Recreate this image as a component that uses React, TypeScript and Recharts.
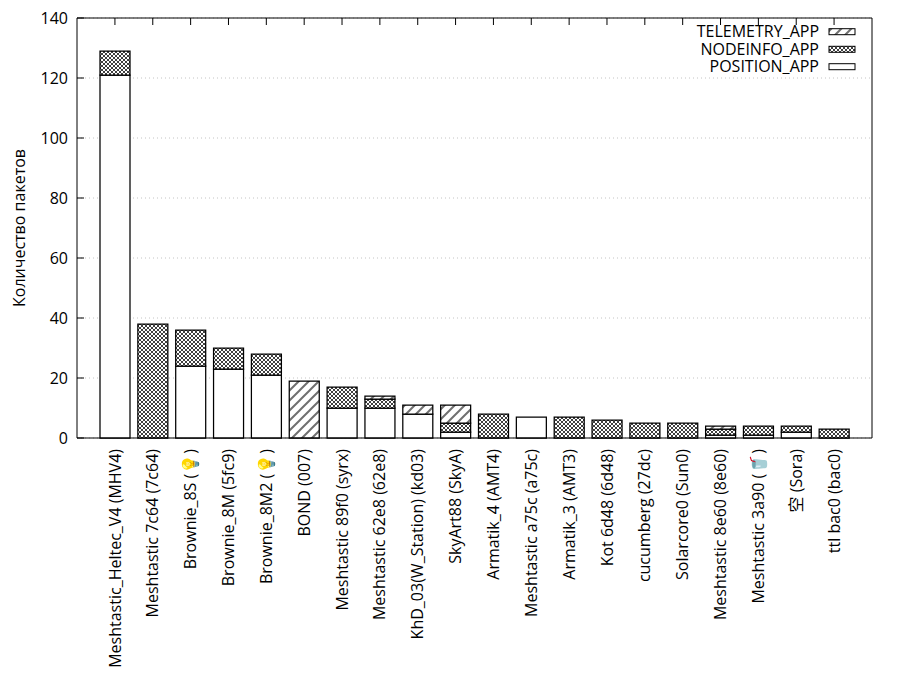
import React from 'react';
import { BarChart, Bar, XAxis, YAxis, CartesianGrid } from 'recharts';

const categories = [
  'Meshtastic_Heltec_V4 (MHV4)',
  'Meshtastic 7c64 (7c64)',
  'Brownie_8S (💡)',
  'Brownie_8M (5fc9)',
  'Brownie_8M2 (💡)',
  'BOND (007)',
  'Meshtastic 89f0 (syrx)',
  'Meshtastic 62e8 (62e8)',
  'KhD_03(W_Station) (kd03)',
  'SkyArt88 (SkyA)',
  'Armatik_4 (AMT4)',
  'Meshtastic a75c (a75c)',
  'Armatik_3 (AMT3)',
  'Kot 6d48 (6d48)',
  'cucumberg (27dc)',
  'Solarcore0 (Sun0)',
  'Meshtastic 8e60 (8e60)',
  'Meshtastic 3a90 (🥤)',
  '空 (Sora)',
  'ttl bac0 (bac0)',
];

const positionApp = [121, 0, 24, 23, 21, 0, 10, 10, 8, 2, 0, 7, 0, 0, 0, 0, 1, 1, 2, 0];
const nodeinfoApp = [8, 38, 12, 7, 7, 0, 7, 3, 0, 3, 8, 0, 7, 6, 5, 5, 2, 3, 2, 3];
const telemetryApp = [0, 0, 0, 0, 0, 19, 0, 1, 3, 6, 0, 0, 0, 0, 0, 0, 1, 0, 0, 0];

const seriesNames = ['POSITION_APP', 'NODEINFO_APP', 'TELEMETRY_APP'];
const seriesKeys = ['position', 'nodeinfo', 'telemetry'];
const yTicks = [0, 20, 40, 60, 80, 100, 120, 140];
const yTitle = 'Количество пакетов';

const FONT = '"Open Sans", "Noto Sans", "Noto Sans CJK SC", sans-serif';

const data = categories.map((name, i) => ({
  name,
  position: positionApp[i],
  nodeinfo: nodeinfoApp[i],
  telemetry: telemetryApp[i],
}));

function Patterns({ prefix }: { prefix: string }) {
  return (
    <defs>
      <pattern id={`${prefix}-cross`} width={4} height={4} patternUnits="userSpaceOnUse">
        <rect width={4} height={4} fill="#fff" />
        <path d="M0,0 L4,4 M4,0 L0,4" stroke="#000" strokeWidth={0.75} />
      </pattern>
      <pattern id={`${prefix}-hatch`} width={10} height={10} patternUnits="userSpaceOnUse">
        <rect width={10} height={10} fill="#fff" />
        <path d="M-1,11 L11,-1 M-1,1 L1,-1 M9,11 L11,9" stroke="#707070" strokeWidth={2} />
      </pattern>
    </defs>
  );
}

const fillFor = (prefix: string, key: string) =>
  key === 'position' ? '#fff' : key === 'nodeinfo' ? `url(#${prefix}-cross)` : `url(#${prefix}-hatch)`;

const XTick = (props: any) => {
  const { x, y, payload } = props;
  return (
    <g transform={`translate(${x},${y})`}>
      <text
        transform="rotate(-90)"
        textAnchor="end"
        dy="0.35em"
        fontSize={16}
        fontFamily={FONT}
        fill="#000"
      >
        {payload.value}
      </text>
    </g>
  );
};

const TopTick = (props: any) => {
  const { x, y } = props;
  return <line x1={x} x2={x} y1={y} y2={y + 7} stroke="#000" strokeWidth={1} />;
};

const LeftTick = (props: any) => {
  const { x, y, payload } = props;
  return (
    <g>
      <line x1={x + 9} x2={x + 16} y1={y} y2={y} stroke="#000" strokeWidth={1} />
      <text x={x} y={y} dy="0.35em" textAnchor="end" fontSize={16} fontFamily={FONT} fill="#000">
        {payload.value}
      </text>
    </g>
  );
};

const RightTick = (props: any) => {
  const { x, y } = props;
  return <line x1={x - 7} x2={x} y1={y} y2={y} stroke="#000" strokeWidth={1} />;
};

const YTitle = (props: any) => {
  const vb = props.viewBox || {};
  const cx = 19;
  const cy = (vb.y ?? 18) + (vb.height ?? 420) / 2;
  return (
    <text
      x={cx}
      y={cy}
      transform={`rotate(-90, ${cx}, ${cy})`}
      textAnchor="middle"
      dy="0.35em"
      fontSize={16}
      fontFamily={FONT}
      fill="#000"
    >
      {yTitle}
    </text>
  );
};

const legendRows = [
  { key: 'telemetry', name: seriesNames[2], cy: 31.7 },
  { key: 'nodeinfo', name: seriesNames[1], cy: 49.3 },
  { key: 'position', name: seriesNames[0], cy: 66.7 },
];

export default function App() {
  return (
    <div style={{ position: 'absolute', left: 0, top: 0, width: 900, height: 700, background: '#fff' }}>
      <BarChart
        width={900}
        height={700}
        data={data}
        margin={{ top: 8, right: 0, bottom: 12, left: 0 }}
        barCategoryGap={0}
      >
        <Patterns prefix="ch" />
        <CartesianGrid horizontal vertical={false} stroke="#c4c4c4" strokeDasharray="1 3" />
        <XAxis
          dataKey="name"
          interval={0}
          height={250}
          tickSize={0}
          tickMargin={11}
          padding={{ left: 19, right: 19 }}
          axisLine={{ stroke: '#000', strokeWidth: 1 }}
          tickLine={false}
          tick={<XTick />}
        />
        <XAxis
          xAxisId="top"
          orientation="top"
          dataKey="name"
          interval={0}
          height={10}
          tickSize={0}
          tickMargin={0}
          padding={{ left: 19, right: 19 }}
          axisLine={{ stroke: '#000', strokeWidth: 1 }}
          tickLine={false}
          tick={<TopTick />}
        />
        <YAxis
          width={77}
          domain={[0, 140]}
          ticks={yTicks}
          interval={0}
          tickSize={0}
          tickMargin={9}
          axisLine={{ stroke: '#000', strokeWidth: 1 }}
          tickLine={false}
          tick={<LeftTick />}
          label={<YTitle />}
        />
        <YAxis
          yAxisId="right"
          orientation="right"
          width={28}
          domain={[0, 140]}
          ticks={yTicks}
          interval={0}
          tickSize={0}
          tickMargin={0}
          axisLine={{ stroke: '#000', strokeWidth: 1 }}
          tickLine={false}
          tick={<RightTick />}
        />
        {seriesKeys.map((k, i) => (
          <Bar
            key={k}
            dataKey={k}
            name={seriesNames[i]}
            stackId="a"
            barSize={30}
            fill={fillFor('ch', k)}
            stroke="#000"
            strokeWidth={1.25}
            isAnimationActive={false}
          />
        ))}
      </BarChart>
      <svg
        width={900}
        height={700}
        style={{ position: 'absolute', left: 0, top: 0, pointerEvents: 'none' }}
      >
        <Patterns prefix="lg" />
        {legendRows.map((r) => (
          <g key={r.key}>
            <text
              x={819}
              y={r.cy}
              dy="0.35em"
              textAnchor="end"
              fontSize={16}
              fontFamily={FONT}
              fill="#000"
            >
              {r.name}
            </text>
            <rect
              x={829}
              y={r.cy - 3}
              width={26}
              height={6}
              fill={fillFor('lg', r.key)}
              stroke="#000"
              strokeWidth={1}
            />
          </g>
        ))}
      </svg>
    </div>
  );
}
